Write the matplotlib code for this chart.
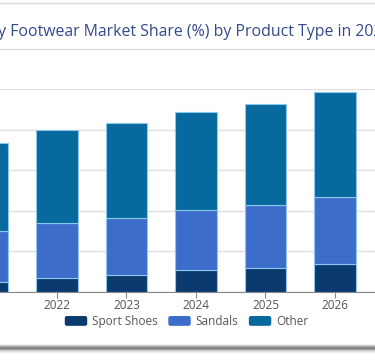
import matplotlib.pyplot as plt
import numpy as np
from matplotlib.lines import Line2D
from matplotlib.patches import FancyBboxPatch, Rectangle
from matplotlib.legend_handler import HandlerPatch

plt.rcParams['font.family'] = ['Open Sans', 'DejaVu Sans']

years = ['2021', '2022', '2023', '2024', '2025', '2026']
sport_shoes = [5.1, 7.1, 8.4, 10.6, 11.7, 13.7]
sandals = [24.8, 26.9, 27.9, 30.0, 31.2, 33.2]
other = [43.7, 45.7, 46.9, 48.3, 49.8, 51.8]
series = ['Sport Shoes', 'Sandals', 'Other']
colors = ['#0b3a6f', '#3d6dcb', '#07699e']

W, H = 375, 363
fig = plt.figure(figsize=(W / 100, H / 100), dpi=100)

# axes run past the figure edges (the reference is a cropped screenshot)
step = 69.5
x_left = -12.5 - step / 2
x_right = 395
ax = fig.add_axes([x_left / W, 1 - 292 / H, (x_right - x_left) / W, (292 - 89) / H])

x = np.arange(len(years))
bottom = np.zeros(len(years))
for name, vals, c in zip(series, [sport_shoes, sandals, other], colors):
    ax.bar(x, vals, 0.6, bottom=bottom, color=c, edgecolor='#8cc8ec',
           linewidth=0.8, zorder=3)
    bottom += np.array(vals)

ax.set_xlim(-0.5, -0.5 + (x_right - x_left) / step)
ax.set_ylim(0, 100)
ax.set_yticks(np.arange(0, 101, 20))
ax.set_yticklabels([])
ax.tick_params(axis='y', length=0)
ax.grid(axis='y', color='#e0e0e0', linewidth=1, zorder=0)
ax.set_xticks(x)
ax.set_xticklabels(years, fontsize=8.5, color='#555555')
ax.tick_params(axis='x', length=4, color='#888888', pad=1)
for s in ['top', 'right', 'left']:
    ax.spines[s].set_visible(False)
ax.spines['bottom'].set_color('#888888')


class RoundHandler(HandlerPatch):
    def create_artists(self, legend, orig_handle, xdescent, ydescent,
                       width, height, fontsize, trans):
        p = FancyBboxPatch((-xdescent + 1.5, -ydescent + 1.5), width - 3, height - 3,
                           boxstyle='round,pad=1.5', facecolor=orig_handle.get_facecolor(),
                           edgecolor='none', transform=trans)
        return [p]


handles = [Rectangle((0, 0), 1, 1, facecolor=c) for c in colors]
leg = fig.legend(handles, series, loc='center', bbox_to_anchor=(186.5 / W, 1 - 321.5 / H),
                 ncol=3, frameon=False, fontsize=8.5, handlelength=1.9, handleheight=0.9,
                 handletextpad=0.4, columnspacing=0.9,
                 handler_map={Rectangle: RoundHandler()})
for t in leg.get_texts():
    t.set_color('#555555')

fig.text(-39 / W, 1 - 32.5 / H, 'Yearly Footwear Market Share (%) by Product Type in 2021-2026',
         ha='left', va='center', fontsize=11.4, color='#33498a')

# card frame lines
fig.add_artist(Line2D([0, 1], [1 - 2.5 / H] * 2, color='#d8d8d8', linewidth=1))
fig.add_artist(Line2D([0, 1], [1 - 48.5 / H] * 2, color='#dcdcdc', linewidth=1))
for dy, g in [(345, '#d0d0d0'), (346, '#b0b0b0'), (347, '#8c8c8c'), (348, '#7a7a7a'),
              (349, '#9a9a9a'), (350, '#c0c0c0'), (351, '#dedede'), (352, '#eeeeee')]:
    fig.add_artist(Line2D([0, 1], [1 - dy / H] * 2, color=g, linewidth=1))

fig.savefig('out.png', dpi=100)
